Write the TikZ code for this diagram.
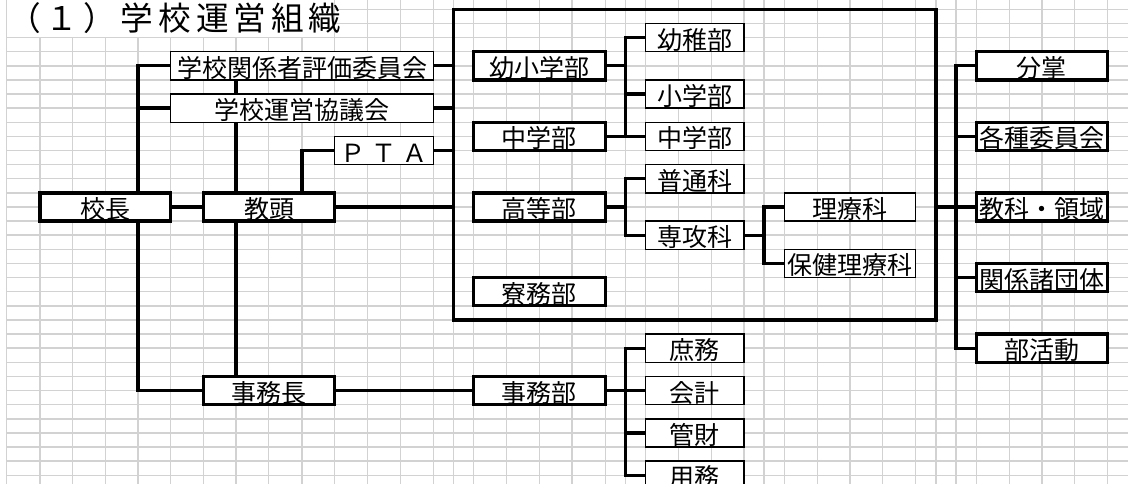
\documentclass[tikz,border=0pt]{standalone}
\usepackage{fontspec}
\setmainfont{Noto Sans CJK JP}
\newfontfamily\titlefont[LetterSpace=15]{Noto Sans CJK JP}
\definecolor{gridgray}{RGB}{210,210,210}
\pgfdeclarelayer{gridlayer}
\pgfdeclarelayer{connlayer}
\pgfsetlayers{gridlayer,connlayer,main}
\newcommand\orgbox[6]{%
  \node[#1, minimum width={(#4-#3)*0.75pt}, minimum height=21.18pt] (#2)
    at ({(#3+#4)/2},{9.3+14.12*(#5+1)}) {#6};}
\begin{document}
\begin{tikzpicture}[x=0.75pt,y=-0.75pt,
  gridline/.style={draw=gridgray, line width=1.1pt},
  basebox/.style={draw, fill=white, inner sep=0pt, text height=17.28pt, text depth=0pt,
    font=\fontsize{18.75pt}{20pt}\selectfont},
  thickbox/.style={basebox, line width=2.5pt},
  thinbox/.style={basebox, line width=1.1pt},
  framebox/.style={draw, line width=2.6pt, inner sep=0pt},
  conn/.style={line width=2.5pt}]
\useasboundingbox (0,0) rectangle (1128,484);
\begin{pgfonlayer}{gridlayer}
  \foreach \c in {6.7,40,72.7,105.3,138,170.7,203.3,236,268.7,302,334.7,367.3,400.7,433.3,453.3,473.3,506.7,539.3,572,605.3,625.3,645.3,678.7,711.3,744,764,784.3,817.3,850,882.7,915.3,936,956,976.3,1009.3,1042,1074.7,1107.3}
    \draw[gridline] (\c,0) -- (\c,484);
  \foreach \k in {0,...,33}
    \draw[gridline] (6.7,{9.3+14.12*\k}) -- (1128,{9.3+14.12*\k});
  \fill[white] (7.4,0) rectangle (334,36.6);
\end{pgfonlayer}
\node[anchor=base west, inner sep=0pt, font={\titlefont\fontsize{24.5pt}{26pt}\selectfont}] (title) at (8,31) {（１）学校運営組織};
% left part
\orgbox{thickbox}{kocho}{40}{170.7}{13}{校長}
\orgbox{thickbox}{kyoto}{203.3}{334.7}{13}{教頭}
\orgbox{thinbox}{hyoka}{170.7}{433.3}{3}{学校関係者評価委員会}
\orgbox{thinbox}{kyogi}{170.7}{433.3}{6}{学校運営協議会}
\orgbox{thinbox}{pta}{334.7}{433.3}{9}{Ｐ Ｔ Ａ}
\orgbox{thickbox}{jimucho}{203.3}{334.7}{26}{事務長}
% frame
\node[framebox, minimum width={(936-453.3)*0.75pt}, minimum height={(320-9.3)*0.75pt}] (frame) at ({(453.3+936)/2},{(9.3+320)/2}) {};
\orgbox{thickbox}{youshou}{473.3}{605.3}{3}{幼小学部}
\orgbox{thickbox}{chugakubu}{473.3}{605.3}{8}{中学部}
\orgbox{thickbox}{koto}{473.3}{605.3}{13}{高等部}
\orgbox{thickbox}{ryomu}{473.3}{605.3}{19}{寮務部}
\orgbox{thinbox}{youchi}{645.3}{744}{1}{幼稚部}
\orgbox{thinbox}{shogaku}{645.3}{744}{5}{小学部}
\orgbox{thinbox}{chu2}{645.3}{744}{8}{中学部}
\orgbox{thinbox}{futsu}{645.3}{744}{11}{普通科}
\orgbox{thinbox}{senko}{645.3}{744}{15}{専攻科}
\orgbox{thinbox}{riryo}{784.3}{915.3}{13}{理療科}
\orgbox{thinbox}{hoken}{784.3}{915.3}{17}{保健理療科}
% right part
\orgbox{thickbox}{bunsho}{976.3}{1107.3}{3}{分掌}
\orgbox{thickbox}{kakushu}{976.3}{1107.3}{8}{各種委員会}
\orgbox{thickbox}{kyoka}{976.3}{1107.3}{13}{教科・領域}
\orgbox{thickbox}{kankei}{976.3}{1107.3}{18}{関係諸団体}
\orgbox{thickbox}{bukatsu}{976.3}{1107.3}{23}{部活動}
% office
\orgbox{thickbox}{jimubu}{473.3}{605.3}{26}{事務部}
\orgbox{thinbox}{shomu}{645.3}{744}{23}{庶務}
\orgbox{thinbox}{kaikei}{645.3}{744}{26}{会計}
\orgbox{thinbox}{kanzai}{645.3}{744}{29}{管財}
\orgbox{thinbox}{yomu}{645.3}{744}{32}{用務}
\coordinate (vL) at (138,0);
\coordinate (vM) at (236,0);
\coordinate (vP) at (302,0);
\coordinate (vA) at (625.3,0);
\coordinate (vB) at (764,0);
\coordinate (vC) at (956,0);
\begin{pgfonlayer}{connlayer}
  \draw[conn] (hyoka.west) -- (hyoka.west -| vL) -- (vL |- jimucho.west) -- (jimucho.west);
  \draw[conn] (kyogi.west) -- (kyogi.west -| vL);
  \draw[conn] (kocho.east) -- (kyoto.west);
  \draw[conn] (vM |- hyoka.south) -- (vM |- jimucho.north);
  \draw[conn] (pta.west) -- (pta.west -| vP) -- (vP |- kyoto.north);
  \draw[conn] (hyoka.east) -- (hyoka.east -| frame.west);
  \draw[conn] (kyogi.east) -- (kyogi.east -| frame.west);
  \draw[conn] (pta.east) -- (pta.east -| frame.west);
  \draw[conn] (kyoto.east) -- (kyoto.east -| frame.west);
  \draw[conn] (jimucho.east) -- (jimubu.west);
  \draw[conn] (youshou.east) -- (youshou.east -| vA);
  \draw[conn] (youchi.west) -- (youchi.west -| vA) -- (vA |- chu2.west) -- (chu2.west);
  \draw[conn] (shogaku.west) -- (shogaku.west -| vA);
  \draw[conn] (chugakubu.east) -- (chu2.west);
  \draw[conn] (koto.east) -- (koto.east -| vA);
  \draw[conn] (futsu.west) -- (futsu.west -| vA) -- (vA |- senko.west) -- (senko.west);
  \draw[conn] (senko.east) -- (senko.east -| vB);
  \draw[conn] (riryo.west) -- (riryo.west -| vB) -- (vB |- hoken.west) -- (hoken.west);
  \draw[conn] (kyoka.west -| frame.east) -- (kyoka.west);
  \draw[conn] (bunsho.west) -- (bunsho.west -| vC) -- (vC |- bukatsu.west) -- (bukatsu.west);
  \draw[conn] (kakushu.west) -- (kakushu.west -| vC);
  \draw[conn] (kankei.west) -- (kankei.west -| vC);
  \draw[conn] (jimubu.east) -- (jimubu.east -| vA);
  \draw[conn] (shomu.west) -- (shomu.west -| vA) -- (vA |- yomu.west) -- (yomu.west);
  \draw[conn] (kaikei.west) -- (kaikei.west -| vA);
  \draw[conn] (kanzai.west) -- (kanzai.west -| vA);
\end{pgfonlayer}
\end{tikzpicture}
\end{document}
